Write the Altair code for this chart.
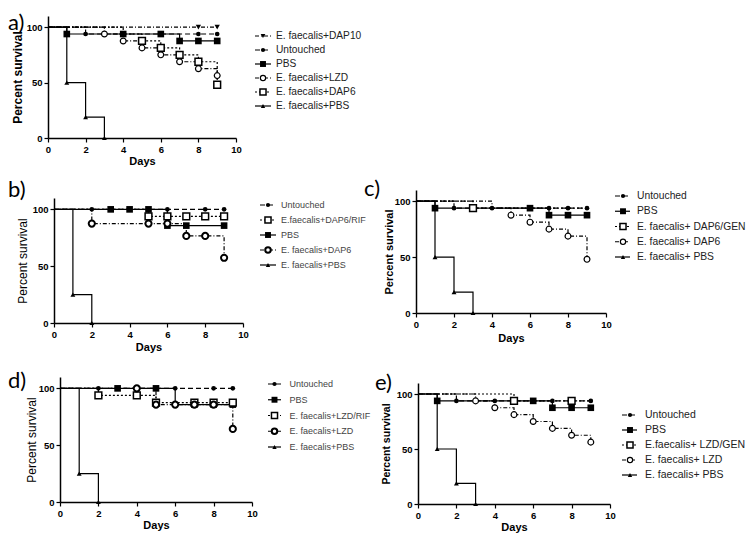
import altair as alt
import pandas as pd

FONT = "Liberation Sans"
LABEL_FONT = "Lato"

# ---------------- data (Kaplan-Meier steps) ----------------
# Panel a
A_NAMES = ["E. faecalis+DAP10", "Untouched", "PBS", "E. faecalis+LZD", "E. faecalis+DAP6", "E. faecalis+PBS"]
A_STYLE = ["dap10", "untouched", "pbs", "ocircle", "osquare", "efpbs"]
A_STEP_DAYS = [[0, 9], [0, 2, 9], [0, 1, 7, 9], [0, 3, 4, 5, 6, 7, 8, 9], [0, 4, 5, 6, 7, 8, 9], [0, 1, 2, 3]]
A_STEP_SURV = [[100, 100], [100, 93.75, 93.75], [100, 93.75, 87.5, 87.5],
               [100, 93.75, 87.5, 81.25, 75, 68.75, 62.5, 56.25],
               [100, 93.75, 87.5, 81.25, 75, 68.75, 48], [100, 50, 18.75, 0]]
A_MARK_DAYS = [[8, 9], [2, 8, 9], [1, 4, 6, 7, 8, 9], [3, 4, 5, 6, 7, 8, 9], [5, 6, 7, 8, 9], [1, 2, 3]]

# Panel b
B_NAMES = ["Untouched", "E.faecalis+DAP6/RIF", "PBS", "E. faecalis+DAP6", "E. faecalis+PBS"]
B_STYLE = ["untouched", "osquare", "pbs", "ocircle_bold", "efpbs"]
B_STEP_DAYS = [[0, 9], [0, 5, 9], [0, 6, 9], [0, 2, 7, 9], [0, 1, 2]]
B_STEP_SURV = [[100, 100], [100, 93.75, 93.75], [100, 85.7, 85.7], [100, 87.5, 76.6, 57.4], [100, 25, 0]]
B_MARK_DAYS = [[2, 6, 8, 9], [5, 6, 7, 8, 9], [3, 4, 5, 6, 7, 9], [2, 5, 6, 7, 8, 9], [1, 2]]

# Panel c
C_NAMES = ["Untouched", "PBS", "E. faecalis+ DAP6/GEN", "E. faecalis+ DAP6", "E. faecalis+ PBS"]
C_STYLE = ["untouched", "pbs", "osquare", "ocircle", "efpbs"]
C_STEP_DAYS = [[0, 2, 9], [0, 1, 7, 9], [0, 3, 9], [0, 4, 5, 6, 7, 8, 9], [0, 1, 2, 3]]
C_STEP_SURV = [[100, 93.75, 93.75], [100, 93.75, 87.5, 87.5], [100, 93.75, 93.75],
               [100, 93.75, 87.5, 81.25, 75, 68.75, 48], [100, 50, 18.75, 0]]
C_MARK_DAYS = [[2, 4, 7, 8, 9], [1, 6, 7, 8, 9], [3], [5, 6, 7, 8, 9], [1, 2, 3]]

# Panel d
D_NAMES = ["Untouched", "PBS", "E. faecalis+LZD/RIF", "E. faecalis+LZD", "E. faecalis+PBS"]
D_STYLE = ["untouched", "pbs", "osquare", "ocircle_bold", "efpbs"]
D_STEP_DAYS = [[0, 9], [0, 6, 9], [0, 2, 5, 9], [0, 5, 9], [0, 1, 2]]
D_STEP_SURV = [[100, 100], [100, 85.7, 85.7], [100, 93.75, 87.5, 87.5], [100, 85.7, 64.3], [100, 25, 0]]
D_MARK_DAYS = [[2, 6, 8, 9], [3, 5, 7, 8, 9], [2, 4, 5, 7, 8, 9], [4, 5, 6, 7, 8, 9], [1, 2]]

# Panel e
E_NAMES = ["Untouched", "PBS", "E.faecalis+ LZD/GEN", "E. faecalis+ LZD", "E. faecalis+ PBS"]
E_STYLE = ["untouched", "pbs", "osquare", "ocircle", "efpbs"]
E_STEP_DAYS = [[0, 2, 9], [0, 1, 7, 9], [0, 5, 9], [0, 3, 4, 5, 6, 7, 8, 9], [0, 1, 2, 3]]
E_STEP_SURV = [[100, 93.75, 93.75], [100, 93.75, 87.5, 87.5], [100, 93.75, 93.75],
               [100, 93.75, 87.5, 81.25, 75, 68.75, 62.5, 56.25], [100, 50, 18.75, 0]]
E_MARK_DAYS = [[2, 4, 7, 9], [1, 6, 7, 8, 9], [5, 8], [3, 4, 5, 6, 7, 8, 9], [1, 2, 3]]

X_TICKS = [0, 2, 4, 6, 8, 10]
Y_TICKS = [0, 50, 100]

# ---------------- styles ----------------
STYLES = {
    "untouched": dict(shape="circle", filled=True, size=22, dash=[5, 3], sw=1.2),
    "pbs": dict(shape="square", filled=True, size=44, dash=None, sw=1.2),
    "efpbs": dict(shape="triangle-up", filled=True, size=24, dash=None, sw=1.2),
    "dap10": dict(shape="triangle-down", filled=True, size=28, dash=[4, 2, 1, 2], sw=1.2),
    "ocircle": dict(shape="circle", filled=False, size=34, dash=[4, 2, 1, 2], sw=1.2),
    "ocircle_bold": dict(shape="circle", filled=False, size=38, dash=[4, 2, 1, 2], sw=2),
    "osquare": dict(shape="square", filled=False, size=46, dash=[2, 2], sw=1.5),
}


def step_at(days, vals, d):
    v = vals[0]
    for dd, vv in zip(days, vals):
        if dd <= d:
            v = vv
    return v


def line_mark(st, **extra):
    kw = dict(color="black", strokeWidth=1.2)
    kw.update(extra)
    if st["dash"] is not None:
        kw["strokeDash"] = st["dash"]
    return kw


def point_mark(st, scale=1.0):
    if st["filled"]:
        return dict(shape=st["shape"], filled=True, color="black", size=st["size"] * scale, opacity=1)
    return dict(shape=st["shape"], filled=True, fill="white", stroke="black",
                strokeWidth=st["sw"], size=st["size"] * scale, opacity=1)


def build_panel(names, styles, sdays, ssurv, mdays, geom, label, lab_pos, ytitle):
    xl, xr, H, ytop = geom
    ytf, ytw, ytp, xtp = ytitle
    xs = alt.Scale(domain=[0, 10], range=[xl, xr], nice=False, zero=False)
    ys = alt.Scale(domain=[0, 110], range=[H, ytop], nice=False, zero=False)
    xax = alt.Axis(values=X_TICKS, title="Days", labelFlush=False, grid=False, tickSize=4,
                   domainWidth=1.5, tickWidth=1.2, labelFontSize=9.5, labelFontWeight="bold",
                   labelPadding=2, titleFontSize=11, titleFontWeight="bold", titlePadding=xtp,
                   format="d")
    yax = alt.Axis(values=Y_TICKS, title="Percent survival", offset=-xl, grid=False, tickSize=4,
                   domainWidth=1.5, tickWidth=1.2, labelFontSize=9.5, labelFontWeight="bold",
                   labelPadding=2, titleFontSize=ytf, titleFontWeight=ytw, titlePadding=ytp,
                   format="d")
    lines, points = [], []
    for name, sty, dd, vv, md in zip(names, styles, sdays, ssurv, mdays):
        st = STYLES[sty]
        ldf = pd.DataFrame({"day": dd, "surv": vv, "series": name})
        lines.append(alt.Chart(ldf).mark_line(interpolate="step-after", **line_mark(st)).encode(
            x=alt.X("day:Q", scale=xs, axis=xax), y=alt.Y("surv:Q", scale=ys, axis=yax)))
        pdf = pd.DataFrame({"day": md, "surv": [step_at(dd, vv, d) for d in md], "series": name})
        points.append(alt.Chart(pdf).mark_point(**point_mark(st)).encode(
            x=alt.X("day:Q", scale=xs, axis=xax), y=alt.Y("surv:Q", scale=ys, axis=yax)))
    lab = alt.Chart(pd.DataFrame({"t": [label]})).mark_text(
        align="left", baseline="alphabetic", font=LABEL_FONT, fontSize=22, color="black").encode(
        x=alt.value(lab_pos[0]), y=alt.value(lab_pos[1]), text="t:N")
    return alt.layer(*lines, *points, lab).properties(width=xr, height=H)


def build_legend(names, styles, geom, fs, color, width, height):
    x1, x2, xm, xt, y0, y1 = geom
    n = len(names)
    ys = alt.Scale(domain=[0, n - 1], range=[y0, y1], nice=False, zero=False)
    layers = []
    for i, (name, sty) in enumerate(zip(names, styles)):
        st = STYLES[sty]
        df = pd.DataFrame({"i": [i], "name": [name]})
        yenc = alt.Y("i:Q", scale=ys, axis=None)
        layers.append(alt.Chart(df).mark_rule(**line_mark(st)).encode(
            x=alt.value(x1), x2=alt.value(x2), y=yenc))
        layers.append(alt.Chart(df).mark_point(**point_mark(st, 0.8)).encode(x=alt.value(xm), y=yenc))
        layers.append(alt.Chart(df).mark_text(align="left", baseline="middle", font=FONT,
                                              fontSize=fs, color=color).encode(
            x=alt.value(xt), y=yenc, text="name:N"))
    return alt.layer(*layers).properties(width=width, height=height)


def spacer():
    return alt.Chart(pd.DataFrame({"v": [0]})).mark_point(opacity=0).encode(
        x=alt.value(0), y=alt.value(0)).properties(width=1, height=1)


pa = build_panel(A_NAMES, A_STYLE, A_STEP_DAYS, A_STEP_SURV, A_MARK_DAYS,
                 (40, 228, 127, 5), "a)", (0, 19), (12, "bold", 2, 2))
pb = build_panel(B_NAMES, B_STYLE, B_STEP_DAYS, B_STEP_SURV, B_MARK_DAYS,
                 (46, 235, 185, 60), "b)", (0, 59), (12, "normal", 3, 3))
pc = build_panel(C_NAMES, C_STYLE, C_STEP_DAYS, C_STEP_SURV, C_MARK_DAYS,
                 (54, 244, 175, 52), "c)", (2, 58), (11, "bold", 0, 4))
pd_ = build_panel(D_NAMES, D_STYLE, D_STEP_DAYS, D_STEP_SURV, D_MARK_DAYS,
                  (52, 244, 179, 54), "d)", (0, 65), (12, "normal", 0, 2))
pe = build_panel(E_NAMES, E_STYLE, E_STEP_DAYS, E_STEP_SURV, E_MARK_DAYS,
                 (56, 248, 181, 60), "e)", (13, 67), (10.5, "bold", 5, 2))

la = build_legend(A_NAMES, A_STYLE, (3, 19, 11, 24, 25, 95), 10.2, "#222222", 110, 100)
lb = build_legend(B_NAMES, B_STYLE, (8, 24, 16, 29, 67, 127), 9, "#444444", 110, 130)
lc = build_legend(C_NAMES, C_STYLE, (5, 20, 13, 27, 58, 119), 10.3, "#222222", 100, 125)
ld = build_legend(D_NAMES, D_STYLE, (16, 29, 22.5, 37.5, 61, 124), 9, "#444444", 110, 130)
le = build_legend(E_NAMES, E_STYLE, (12, 27, 20, 35, 92, 152), 10.5, "#222222", 100, 156)

chart = alt.concat(
    pa, la, spacer(), spacer(),
    pb, lb, pc, lc,
    pd_, ld, pe, le,
    columns=4, spacing=0, bounds="flush", align="each",
).properties(padding=0).configure_view(stroke=None).configure_axis(
    domainColor="black", tickColor="black", labelColor="black", titleColor="black",
    labelFont=FONT, titleFont=FONT, grid=False)

chart.save("out.html", embed_options={"renderer": "svg", "actions": False})
